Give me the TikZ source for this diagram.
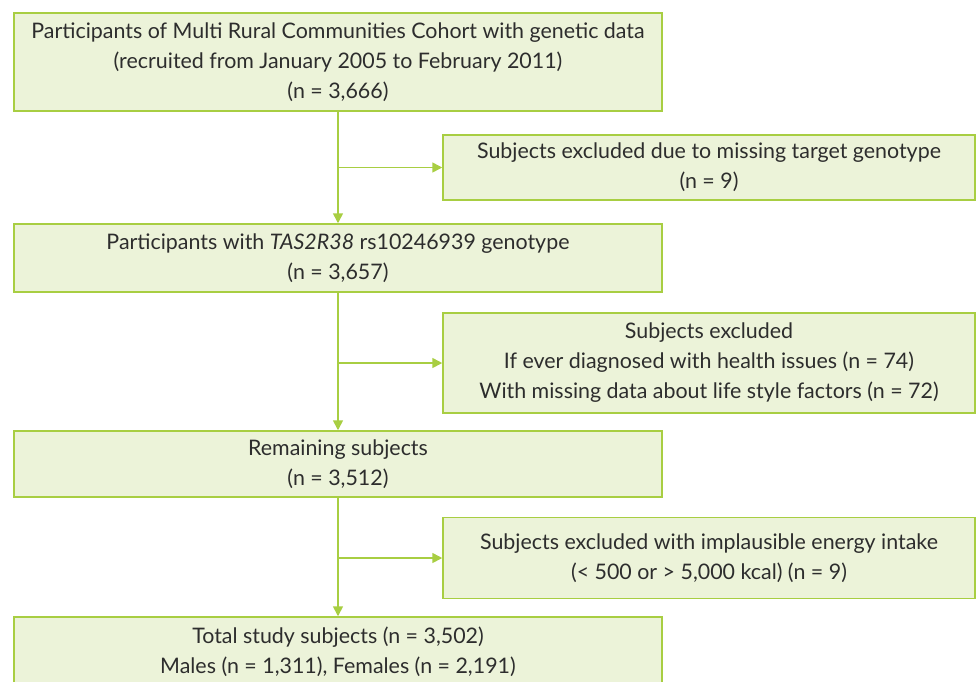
\documentclass[tikz,border=0pt]{standalone}
\usepackage{fontspec}
\setmainfont{Lato}
\usepackage{tikz}
\usetikzlibrary{arrows.meta,positioning}

\definecolor{boxgreen}{RGB}{236,243,217}
\definecolor{linegreen}{RGB}{168,206,66}
\definecolor{txtgray}{RGB}{45,45,45}

\begin{document}
\begin{tikzpicture}[x=0.5pt, y=-0.5pt, >={Triangle[length=5pt,width=5pt]},
    block/.style={rectangle, draw=linegreen, fill=boxgreen, line width=0.75pt,
                  align=center, inner sep=0pt, text=txtgray,
                  font=\fontsize{10.7}{15}\selectfont},
    mainbox/.style={block, minimum width=324pt},
    sidebox/.style={block, minimum width=266pt},
    arrow/.style={->, draw=linegreen, line width=0.8pt}]
    \useasboundingbox (0,0) rectangle (979,681);
    % main column
    \node[mainbox, minimum height=49pt] (cohort) at (338,62)
        {Participants of Multi Rural Communities Cohort with genetic data\\
         (recruited from January 2005 to February 2011)\\(n = 3,666)};
    \node[mainbox, minimum height=34pt] (geno) at (338,258)
        {Participants with \textit{TAS2R38} rs10246939 genotype\\(n = 3,657)};
    \node[mainbox, minimum height=33pt] (remain) at (338,464)
        {Remaining subjects\\(n = 3,512)};
    \node[mainbox, minimum height=35pt] (total) at (338,652)
        {Total study subjects (n = 3,502)\\Males (n = 1,311), Females (n = 2,191)};
    % exclusions
    \node[sidebox, minimum height=32.5pt] (exgeno) at (709,167.5)
        {Subjects excluded due to missing target genotype\\(n = 9)};
    \node[sidebox, minimum height=50pt] (exhealth) at (709,363)
        {Subjects excluded\\If ever diagnosed with health issues (n = 74)\\
         With missing data about life style factors (n = 72)};
    \node[sidebox, minimum height=40.5pt] (exenergy) at (709,558)
        {Subjects excluded with implausible energy intake\\
         (< 500 or > 5,000 kcal) (n = 9)};
    % trunk junctions
    \coordinate (j1) at (cohort.south |- exgeno.west);
    \coordinate (j2) at (cohort.south |- exhealth.west);
    \coordinate (j3) at (cohort.south |- exenergy.west);
    \draw[arrow] (cohort.south) -- (geno.north);
    \draw[arrow] (geno.south) -- (remain.north);
    \draw[arrow] (remain.south) -- (total.north);
    \draw[arrow] (j1) -- (exgeno.west);
    \draw[arrow] (j2) -- (exhealth.west);
    \draw[arrow] (j3) -- (exenergy.west);
\end{tikzpicture}
\end{document}
